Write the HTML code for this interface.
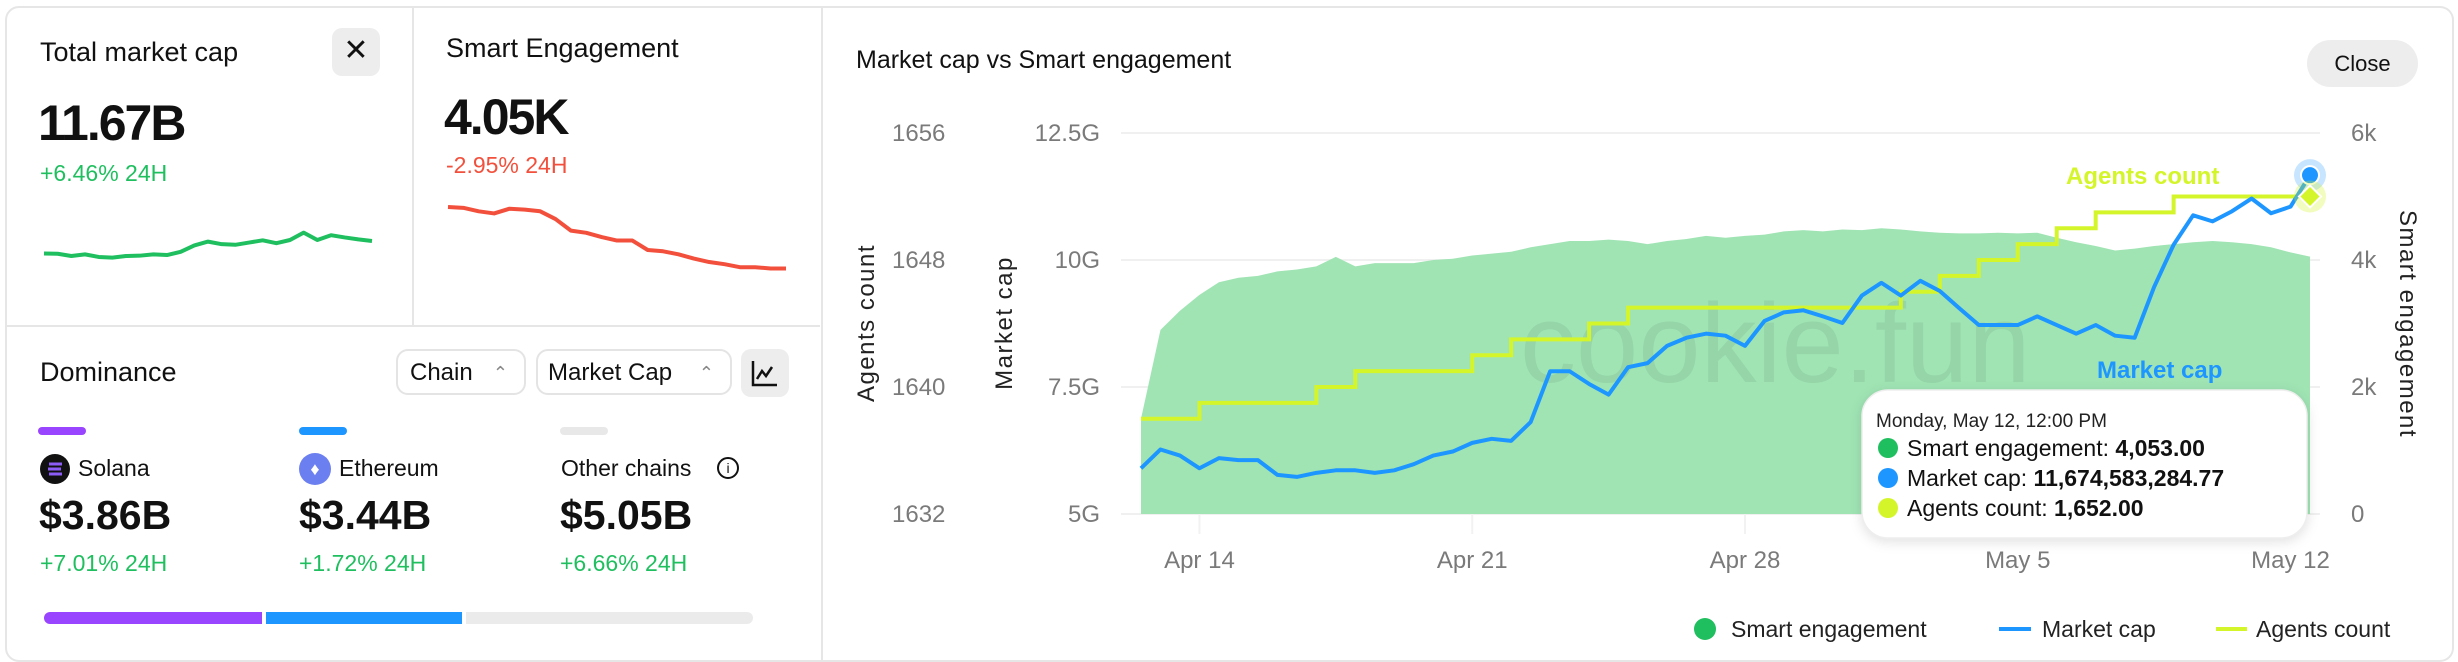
<!DOCTYPE html>
<html><head><meta charset="utf-8">
<style>
html,body{margin:0;padding:0;background:#fff;}
body{width:2458px;height:662px;position:relative;overflow:hidden;font-family:"Liberation Sans",sans-serif;color:#111;}
.a{position:absolute;white-space:nowrap;}
.card{position:absolute;border:2px solid #e6e6e6;}
.sel{position:absolute;border:2px solid #e4e4e4;border-radius:12px;font-size:24px;line-height:44px;padding-left:24px;box-sizing:border-box;}
.sel span{position:absolute;right:16px;top:0;color:#888;font-size:18px;}
.g{color:#1fbf5f}
</style></head><body>
<div class="card" style="left:5px;top:6px;width:814px;height:652px;border-radius:14px 0 0 14px;"></div>
<div class="a" style="left:412px;top:7px;width:2px;height:319px;background:#e6e6e6"></div>
<div class="a" style="left:6px;top:325px;width:814px;height:2px;background:#e6e6e6"></div>
<div class="card" style="left:822px;top:6px;width:1630px;height:652px;border-radius:0 14px 14px 0;border-left:none"></div>

<div class="a" style="left:40px;top:37px;font-size:27px;">Total market cap</div>
<div class="a" style="left:332px;top:28px;width:48px;height:48px;background:#ededed;border-radius:10px;text-align:center;line-height:46px;font-size:30px;">✕</div>
<div class="a" style="left:38px;top:94px;font-size:50px;letter-spacing:-2px;font-weight:bold;">11.67B</div>
<div class="a g" style="left:40px;top:160px;font-size:23px;">+6.46% 24H</div>
<div class="a" style="left:446px;top:33px;font-size:27px;">Smart Engagement</div>
<div class="a" style="left:444px;top:88px;font-size:50px;letter-spacing:-2px;font-weight:bold;">4.05K</div>
<div class="a" style="left:446px;top:152px;font-size:23px;color:#f2503c">-2.95% 24H</div>

<svg class="a" style="left:0;top:0" width="830" height="330">
<polyline id="sparkG" fill="none" stroke="#1fbf5f" stroke-width="4" stroke-linejoin="round"/>
<polyline id="sparkR" fill="none" stroke="#f2503c" stroke-width="4" stroke-linejoin="round"/>
</svg>

<div class="a" style="left:40px;top:357px;font-size:27px;">Dominance</div>
<div class="sel" style="left:396px;top:349px;width:130px;height:46px;padding-left:12px">Chain<span>⌃</span></div>
<div class="sel" style="left:536px;top:349px;width:196px;height:46px;padding-left:10px">Market Cap<span>⌃</span></div>
<div class="a" style="left:741px;top:349px;width:48px;height:48px;background:#ededed;border-radius:10px;">
<svg width="48" height="48"><path d="M12 12V36H36" fill="none" stroke="#111" stroke-width="2.5"/><path d="M16 30L21 22L25 27L31 18" fill="none" stroke="#111" stroke-width="2.5"/></svg></div>

<div class="a" style="left:38px;top:427px;width:48px;height:8px;border-radius:4px;background:#9945ff"></div>
<div class="a" style="left:299px;top:427px;width:48px;height:8px;border-radius:4px;background:#1e96ff"></div>
<div class="a" style="left:560px;top:427px;width:48px;height:8px;border-radius:4px;background:#e8e8e8"></div>

<div class="a" style="left:40px;top:454px;width:30px;height:30px;border-radius:50%;background:#111;">
<svg width="30" height="30"><path d="M9 10H22M8 15H21M9 20H22" stroke="#8b5cf6" stroke-width="3"/></svg></div>
<div class="a" style="left:78px;top:455px;font-size:23px;">Solana</div>
<div class="a" style="left:299px;top:453px;width:32px;height:32px;border-radius:50%;background:#6b7ff0;color:#fff;text-align:center;line-height:32px;font-size:18px;">♦</div>
<div class="a" style="left:339px;top:455px;font-size:23px;">Ethereum</div>
<div class="a" style="left:561px;top:455px;font-size:23px;">Other chains</div>
<div class="a" style="left:717px;top:457px;width:18px;height:18px;border:2px solid #111;border-radius:50%;text-align:center;line-height:18px;font-size:14px;">i</div>

<div class="a" style="left:39px;top:492px;font-size:41px;font-weight:bold;">$3.86B</div>
<div class="a" style="left:299px;top:492px;font-size:41px;font-weight:bold;">$3.44B</div>
<div class="a" style="left:560px;top:492px;font-size:41px;font-weight:bold;">$5.05B</div>
<div class="a g" style="left:40px;top:550px;font-size:23px;">+7.01% 24H</div>
<div class="a g" style="left:299px;top:550px;font-size:23px;">+1.72% 24H</div>
<div class="a g" style="left:560px;top:550px;font-size:23px;">+6.66% 24H</div>

<div class="a" style="left:44px;top:612px;width:218px;height:12px;border-radius:6px 0 0 6px;background:#9945ff"></div>
<div class="a" style="left:266px;top:612px;width:196px;height:12px;background:#1e96ff"></div>
<div class="a" style="left:466px;top:612px;width:287px;height:12px;border-radius:0 6px 6px 0;background:#ebebeb"></div>

<div class="a" style="left:856px;top:46px;font-size:25px;">Market cap vs Smart engagement</div>
<div class="a" style="left:2307px;top:40px;width:111px;height:47px;border-radius:24px;background:#ededed;text-align:center;line-height:47px;font-size:22px;">Close</div>

<svg id="chart" class="a" style="left:0;top:0" width="2458" height="662"></svg>

<script>
const sparkMc=[8.3,8.2,7.5,8.0,7.2,7.0,7.5,7.6,8.0,7.8,8.8,10.8,12.0,11.2,11.0,11.7,12.4,11.5,12.5,14.8,12.5,14.0,13.3,12.7,12.2];
const sparkSe=[21.0,20.8,20.0,19.5,20.6,20.4,20.0,18.2,15.5,15.0,14.0,13.2,13.2,11.0,10.7,10.0,9.0,8.2,7.7,7.0,7.0,6.7,6.7];

const days=[];for(let i=0;i<=60;i++)days.push(i/2);
const engagement=[1.5,2.9,3.2,3.45,3.65,3.72,3.75,3.82,3.85,3.9,4.05,3.9,3.95,3.95,3.95,4.0,4.02,4.07,4.1,4.13,4.2,4.25,4.3,4.3,4.32,4.3,4.25,4.3,4.33,4.38,4.35,4.38,4.4,4.45,4.47,4.45,4.48,4.47,4.5,4.48,4.45,4.43,4.42,4.42,4.43,4.42,4.43,4.35,4.28,4.22,4.15,4.18,4.22,4.25,4.28,4.3,4.28,4.25,4.2,4.12,4.053];
const marketCap=[5.9,6.27,6.15,5.9,6.1,6.06,6.06,5.77,5.73,5.81,5.86,5.86,5.81,5.86,5.98,6.15,6.23,6.4,6.48,6.44,6.81,7.81,7.81,7.56,7.35,7.89,7.97,8.31,8.47,8.55,8.51,8.31,8.8,8.97,9.01,8.89,8.76,9.3,9.55,9.3,9.59,9.39,9.05,8.72,8.72,8.72,8.89,8.72,8.55,8.72,8.51,8.47,9.47,10.3,10.88,10.76,10.96,11.21,10.92,11.05,11.67];
const agents=[1638,1638,1638,1639,1639,1639,1639,1639,1639,1640,1640,1641,1641,1641,1641,1641,1641,1642,1642,1643,1643,1643,1643,1644,1644,1645,1645,1645,1645,1645,1645,1645,1645,1645,1645,1645,1645,1645,1645,1646,1646,1647,1647,1648,1648,1649,1649,1650,1650,1651,1651,1651,1651,1652,1652,1652,1652,1652,1652,1652,1652];
const xTickDays=[1.5,8.5,15.5,22.5,29.5];
const xTickLabels=["Apr 14","Apr 21","Apr 28","May 5","May 12"];
const mcTicks=[5,7.5,10,12.5];const mcTickLabels=["5G","7.5G","10G","12.5G"];
const agTicks=[1632,1640,1648,1656];
const seTicks=[0,2,4,6];const seTickLabels=["0","2k","4k","6k"];

(function(){
 const g=document.getElementById('sparkG'),r=document.getElementById('sparkR');
 const gx=i=>44+i*(372-44)/(sparkMc.length-1), gy=v=>280-v*3.2;
 g.setAttribute('points',sparkMc.map((v,i)=>gx(i)+','+gy(v)).join(' '));
 const rx=i=>448+i*(786-448)/(sparkSe.length-1), ry=v=>207+(21-v)*4.3;
 r.setAttribute('points',sparkSe.map((v,i)=>rx(i)+','+ry(v)).join(' '));
})();

const NS='http://www.w3.org/2000/svg';
const svg=document.getElementById('chart');
const X0=1141,X1=2310,YB=514,YT=133;
const x=t=>X0+t/30*(X1-X0);
const yMc=v=>YB-(v-5)/7.5*(YB-YT);
const ySe=v=>YB-v/6*(YB-YT);
const yAg=v=>YB-(v-1632)/24*(YB-YT);
function el(tag,at,txt){const e=document.createElementNS(NS,tag);for(const k in at)e.setAttribute(k,at[k]);if(txt!=null)e.textContent=txt;svg.appendChild(e);return e;}

mcTicks.forEach((v,i)=>{
 const gl=el('line',{x1:X0-20,x2:X1+10,y1:yMc(v),y2:yMc(v),stroke:'#f0f0f0','stroke-width':2});
 
 
 const t=el('text',{x:1100,y:yMc(v)+8,'text-anchor':'end','font-size':24,fill:'#7a7a7a'},mcTickLabels[i]);
 
 
});
agTicks.forEach(v=>{
 const t=el('text',{x:892,y:yAg(v)+8,'font-size':24,fill:'#7a7a7a'},String(v));
 
 
});
seTicks.forEach((v,i)=>{
 const t=el('text',{x:2351,y:ySe(v)+8,'font-size':24,fill:'#7a7a7a'},seTickLabels[i]);
 
 
});
xTickDays.forEach((d,i)=>{
 const l=el('line',{x1:x(d),x2:x(d),y1:YB,y2:534,stroke:'#f2f2f2','stroke-width':2});
 
 
 const t=el('text',{x:x(d),y:568,'text-anchor':'middle','font-size':24,fill:'#7a7a7a'},xTickLabels[i]);
 
 
});

let ad='M'+x(days[0])+','+YB;
engagement.forEach((v,i)=>{ad+='L'+x(days[i])+','+ySe(v);});
ad+='L'+x(days[days.length-1])+','+YB+'Z';
const area=el('path',{d:ad,fill:'#a0e4b4'});



const wm=el('text',{x:1520,y:382,'font-size':112,fill:'rgba(60,90,70,0.1)'},'cookie.fun');



let sd='M'+x(days[0])+','+yAg(agents[0]);
for(let i=1;i<agents.length;i++){sd+='H'+x(days[i])+'V'+yAg(agents[i]);}
const step=el('path',{d:sd,fill:'none',stroke:'#d4f52a','stroke-width':4});



const mcl=el('polyline',{points:marketCap.map((v,i)=>x(days[i])+','+yMc(v)).join(' '),fill:'none',stroke:'#1e96ff','stroke-width':4,'stroke-linejoin':'round'});



const last=days.length-1;
const h1=el('circle',{cx:x(days[last]),cy:yMc(marketCap[last]),r:16,fill:'rgba(30,150,255,0.25)'});


const m1=el('circle',{cx:x(days[last]),cy:yMc(marketCap[last]),r:9,fill:'#1e96ff',stroke:'#fff','stroke-width':2});


const ax=x(days[last]),ay=yAg(agents[last]);
const h2=el('circle',{cx:ax,cy:ay,r:16,fill:'rgba(212,245,42,0.3)'});


const m2=el('path',{d:`M${ax},${ay-11}L${ax+11},${ay}L${ax},${ay+11}L${ax-11},${ay}Z`,fill:'#d4f52a',stroke:'#fff','stroke-width':2});



const la=el('text',{x:2066,y:184,'font-size':24,'font-weight':'bold',fill:'#d4f52a'},'Agents count');


const lm=el('text',{x:2097,y:378,'font-size':24,'font-weight':'bold',fill:'#1e96ff'},'Market cap');



const t1=el('text',{transform:'translate(874,323) rotate(-90)','text-anchor':'middle','font-size':24,'letter-spacing':1.5,fill:'#222'},'Agents count');


const t2=el('text',{transform:'translate(1012,323) rotate(-90)','text-anchor':'middle','font-size':24,'letter-spacing':1.5,fill:'#222'},'Market cap');


const t3=el('text',{transform:'translate(2400,324) rotate(90)','text-anchor':'middle','font-size':24,'letter-spacing':1.5,fill:'#222'},'Smart engagement');



const tb=el('rect',{x:1862,y:390,width:445,height:148,rx:26,fill:'#fff',stroke:'#eee','stroke-width':1.5,style:'filter:drop-shadow(0 3px 6px rgba(0,0,0,0.12))'});


const td=el('text',{x:1876,y:427,'font-size':19,fill:'#222'},'Monday, May 12, 12:00 PM');


[['#1fbf5f','Smart engagement: ','4,053.00',456],['#1e96ff','Market cap: ','11,674,583,284.77',486],['#d4f52a','Agents count: ','1,652.00',516]].forEach(r=>{
 const c=el('circle',{cx:1888,cy:r[3]-8,r:10,fill:r[0]});
 
 
 const tx=el('text',{x:1907,y:r[3],'font-size':23,fill:'#111'});
 
 
 const s1=document.createElementNS(NS,'tspan');s1.textContent=r[1];tx.appendChild(s1);
 const s2=document.createElementNS(NS,'tspan');s2.setAttribute('font-weight','bold');s2.textContent=r[2];tx.appendChild(s2);
});

const lg1=el('circle',{cx:1705,cy:629,r:11,fill:'#1fbf5f'});


const lt1=el('text',{x:1731,y:637,'font-size':23,fill:'#222'},'Smart engagement');


const lg2=el('line',{x1:1999,x2:2031,y1:629,y2:629,stroke:'#1e96ff','stroke-width':4});


const lt2=el('text',{x:2042,y:637,'font-size':23,fill:'#222'},'Market cap');


const lg3=el('line',{x1:2216,x2:2247,y1:629,y2:629,stroke:'#d4f52a','stroke-width':4});


const lt3=el('text',{x:2256,y:637,'font-size':23,fill:'#222'},'Agents count');


</script>
</body></html>
